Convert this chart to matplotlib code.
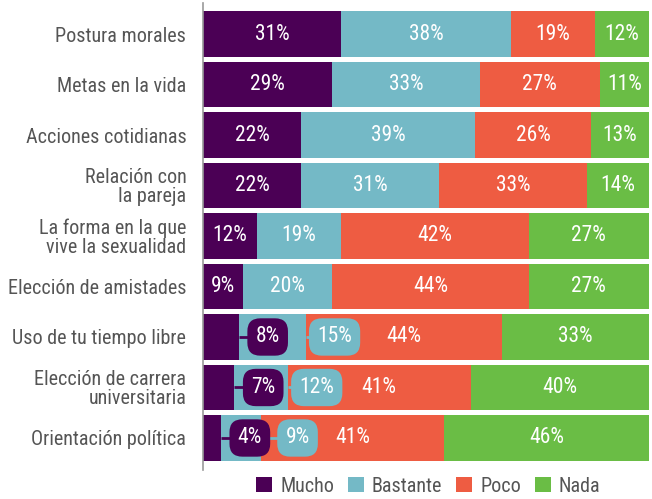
import numpy as np
import matplotlib.pyplot as plt

plt.rcParams['font.family'] = ['Roboto Condensed', 'DejaVu Sans']

# data
categories = ["Postura morales", "Metas en la vida", "Acciones cotidianas",
              "Relación con\nla pareja", "La forma en la que\nvive la sexualidad",
              "Elección de amistades", "Uso de tu tiempo libre",
              "Elección de carrera\nuniversitaria", "Orientación política"]
mucho = [31, 29, 22, 22, 12, 9, 8, 7, 4]
bastante = [38, 33, 39, 31, 19, 20, 15, 12, 9]
poco = [19, 27, 26, 33, 42, 44, 44, 41, 41]
nada = [12, 11, 13, 14, 27, 27, 33, 40, 46]
series_names = ["Mucho", "Bastante", "Poco", "Nada"]

colors = ["#4b0055", "#74b9c6", "#ee5c42", "#6abd45"]
text_gray = "#555555"

fig = plt.figure(figsize=(6.52, 4.99), dpi=100)
ax = fig.add_axes([203 / 652, 1 - 470 / 499, 446 / 652, 467 / 499])

series = [mucho, bastante, poco, nada]
y = np.arange(len(categories))
left = np.zeros(len(categories))
for vals, col, name in zip(series, colors, series_names):
    vals = np.array(vals, dtype=float)
    ax.barh(y, vals, left=left, height=0.91, color=col, label=name, zorder=2)
    left = left + vals

# percentage labels; rows with a very thin "Mucho" segment get rounded tags
for i in range(len(categories)):
    start = 0
    prev_box = -100
    tagged = mucho[i] < 9
    for k, col in enumerate(colors):
        v = series[k][i]
        end = start + v
        if tagged and k < 2:
            lx = max(end + 6.5, prev_box + 10.7)
            prev_box = lx
            ax.plot([end, lx], [i, i], color=col, lw=2, zorder=3,
                    solid_capstyle='butt')
            ax.text(lx, i, f"{v}%", ha='center', va='center', color='white',
                    fontsize=15.5, zorder=5,
                    bbox=dict(boxstyle='round,pad=0.38,rounding_size=0.6',
                              fc=col, ec='none'))
        else:
            ax.text(start + v / 2, i, f"{v}%", ha='center', va='center',
                    color='white', fontsize=15.5, zorder=4)
        start = end

ax.set_xlim(0, 100)
ax.set_ylim(8 + 0.634, -0.614)
ax.set_yticks(y)
ax.set_yticklabels(categories, fontsize=14.5, color=text_gray, linespacing=1.0)
ax.tick_params(axis='y', length=0, pad=12)
ax.set_xticks([])
for s in ['top', 'right', 'bottom']:
    ax.spines[s].set_visible(False)
ax.spines['left'].set_color('#999999')
ax.spines['left'].set_linewidth(1.2)

leg = fig.legend(loc='lower center', bbox_to_anchor=(0.657, -0.03), ncol=4,
                 frameon=False, fontsize=14.5, handlelength=0.78, handleheight=0.78,
                 handletextpad=0.4, columnspacing=0.7)
for t in leg.get_texts():
    t.set_color(text_gray)

fig.savefig("out.png", dpi=100)
